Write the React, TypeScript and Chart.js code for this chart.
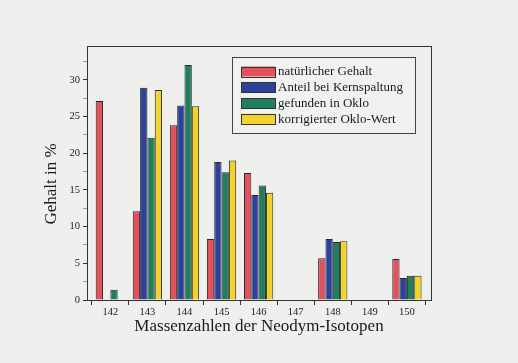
import React, { useEffect, useRef } from "react";
import { Chart, registerables } from "chart.js";

Chart.register(...registerables);

const categories = [142, 143, 144, 145, 146, 147, 148, 149, 150];
const natuerlich = [27.1, 12.1, 23.8, 8.3, 17.3, null, 5.7, null, 5.6];
const kernspaltung = [null, 28.9, 26.5, 18.8, 14.3, null, 8.3, null, 3.0];
const oklo = [1.4, 22.1, 32.0, 17.4, 15.6, null, 7.9, null, 3.3];
const korrigiert = [null, 28.6, 26.4, 19.0, 14.6, null, 8.0, null, 3.3];

const seriesNames = [
  "natürlicher Gehalt",
  "Anteil bei Kernspaltung",
  "gefunden in Oklo",
  "korrigierter Oklo-Wert",
];
const seriesColors = ["#e0535d", "#2d409c", "#1e7e5e", "#f2d22c"];
const yTickValues = [0, 2.5, 5, 7.5, 10, 12.5, 15, 17.5, 20, 22.5, 25, 27.5, 30, 32.5];
const yTitle = "Gehalt in %";
const xTitle = "Massenzahlen der Neodym-Isotopen";

const FONT = "'Liberation Serif', 'Times New Roman', serif";

const framePlugin = {
  id: "frameAndLegend",
  afterDraw(chart: any) {
    const { ctx, chartArea } = chart;
    ctx.save();
    ctx.strokeStyle = "#333";
    ctx.lineWidth = 1;
    ctx.strokeRect(
      Math.round(chartArea.left) + 0.5,
      Math.round(chartArea.top) + 0.5,
      Math.round(chartArea.right - chartArea.left),
      Math.round(chartArea.bottom - chartArea.top)
    );
    // y-axis title
    ctx.save();
    ctx.translate(chartArea.left - 35, (chartArea.top + chartArea.bottom) / 2 + 11);
    ctx.rotate(-Math.PI / 2);
    ctx.font = `17px ${FONT}`;
    ctx.fillStyle = "#1a1a1a";
    ctx.textAlign = "center";
    ctx.textBaseline = "middle";
    ctx.fillText(yTitle, 0, 0);
    ctx.restore();
    // legend box
    const boxRight = chartArea.right - 16;
    const boxLeft = boxRight - 183;
    const boxTop = chartArea.top + 11;
    const boxH = 76;
    ctx.fillStyle = "#f1f1ef";
    ctx.fillRect(boxLeft, boxTop, boxRight - boxLeft, boxH);
    ctx.strokeStyle = "#444";
    ctx.strokeRect(Math.round(boxLeft) + 0.5, Math.round(boxTop) + 0.5, Math.round(boxRight - boxLeft), boxH);
    ctx.font = `13px ${FONT}`;
    ctx.textBaseline = "middle";
    ctx.textAlign = "left";
    seriesNames.forEach((name, i) => {
      const cy = boxTop + 14.5 + i * 15.8;
      ctx.fillStyle = seriesColors[i];
      ctx.fillRect(boxLeft + 9, cy - 5, 34, 10);
      ctx.strokeStyle = "#333";
      ctx.strokeRect(Math.round(boxLeft + 9) + 0.5, Math.round(cy - 5) + 0.5, 34, 10);
      ctx.fillStyle = "#1a1a1a";
      ctx.fillText(name, boxLeft + 46, cy + 0.5);
    });
    ctx.restore();
  },
};

export default function App() {
  const ref = useRef<HTMLCanvasElement | null>(null);

  useEffect(() => {
    if (!ref.current) return;
    const seriesValues = [natuerlich, kernspaltung, oklo, korrigiert];
    const chart = new Chart(ref.current, {
      type: "bar",
      data: {
        datasets: seriesValues.map((vals, i) => ({
          label: seriesNames[i],
          data: categories.map((c, j) => ({ x: c, y: vals[j] })) as any,
          backgroundColor: seriesColors[i],
          borderColor: "#2a2a2a",
          borderWidth: 1,
          categoryPercentage: 0.79,
          barPercentage: 1.0,
        })),
      },
      options: {
        responsive: false,
        animation: false,
        layout: { padding: { left: 0, top: 46, right: 87, bottom: 0 } },
        plugins: {
          legend: { display: false },
          tooltip: { enabled: false },
        },
        scales: {
          x: {
            type: "linear",
            offset: false,
            min: 141.37,
            max: 150.65,
            afterBuildTicks: (axis: any) => {
              axis.ticks = categories.map((c) => ({ value: c }));
            },
            afterFit: (axis: any) => {
              axis.height = 63;
            },
            ticks: {
              autoSkip: false,
              maxRotation: 0,
              padding: 1,
              color: "#222",
              font: { family: FONT, size: 10.5 },
              callback: (v: any) => String(v),
            },
            grid: {
              offset: true,
              drawOnChartArea: false,
              tickLength: 5,
              tickColor: "#333",
            },
            border: { display: true, color: "#333", width: 1 },
            title: {
              display: true,
              text: xTitle,
              color: "#1a1a1a",
              font: { family: FONT, size: 17 },
              padding: { top: 0, bottom: 26 },
            },
          },
          y: {
            min: 0,
            max: 34.6,
            afterBuildTicks: (axis: any) => {
              axis.ticks = yTickValues.map((v) => ({ value: v }));
            },
            afterFit: (axis: any) => {
              axis.width = 87;
            },
            ticks: {
              autoSkip: false,
              padding: 3,
              color: "#222",
              font: { family: FONT, size: 10.5 },
              callback: (v: any) => (v % 5 === 0 ? String(v) : ""),
            },
            grid: {
              drawOnChartArea: false,
              tickLength: 4,
              tickColor: (ctx: any) =>
                ctx.tick && ctx.tick.value % 5 === 0 ? "#333" : "#999",
            },
            border: { display: true, color: "#333", width: 1 },
          },
        },
      },
      plugins: [framePlugin],
    });
    return () => chart.destroy();
  }, []);

  return (
    <div
      style={{
        position: "absolute",
        left: 0,
        top: 0,
        width: 518,
        height: 363,
        background: "#efefed",
      }}
    >
      <canvas ref={ref} width={518} height={363} />
    </div>
  );
}
